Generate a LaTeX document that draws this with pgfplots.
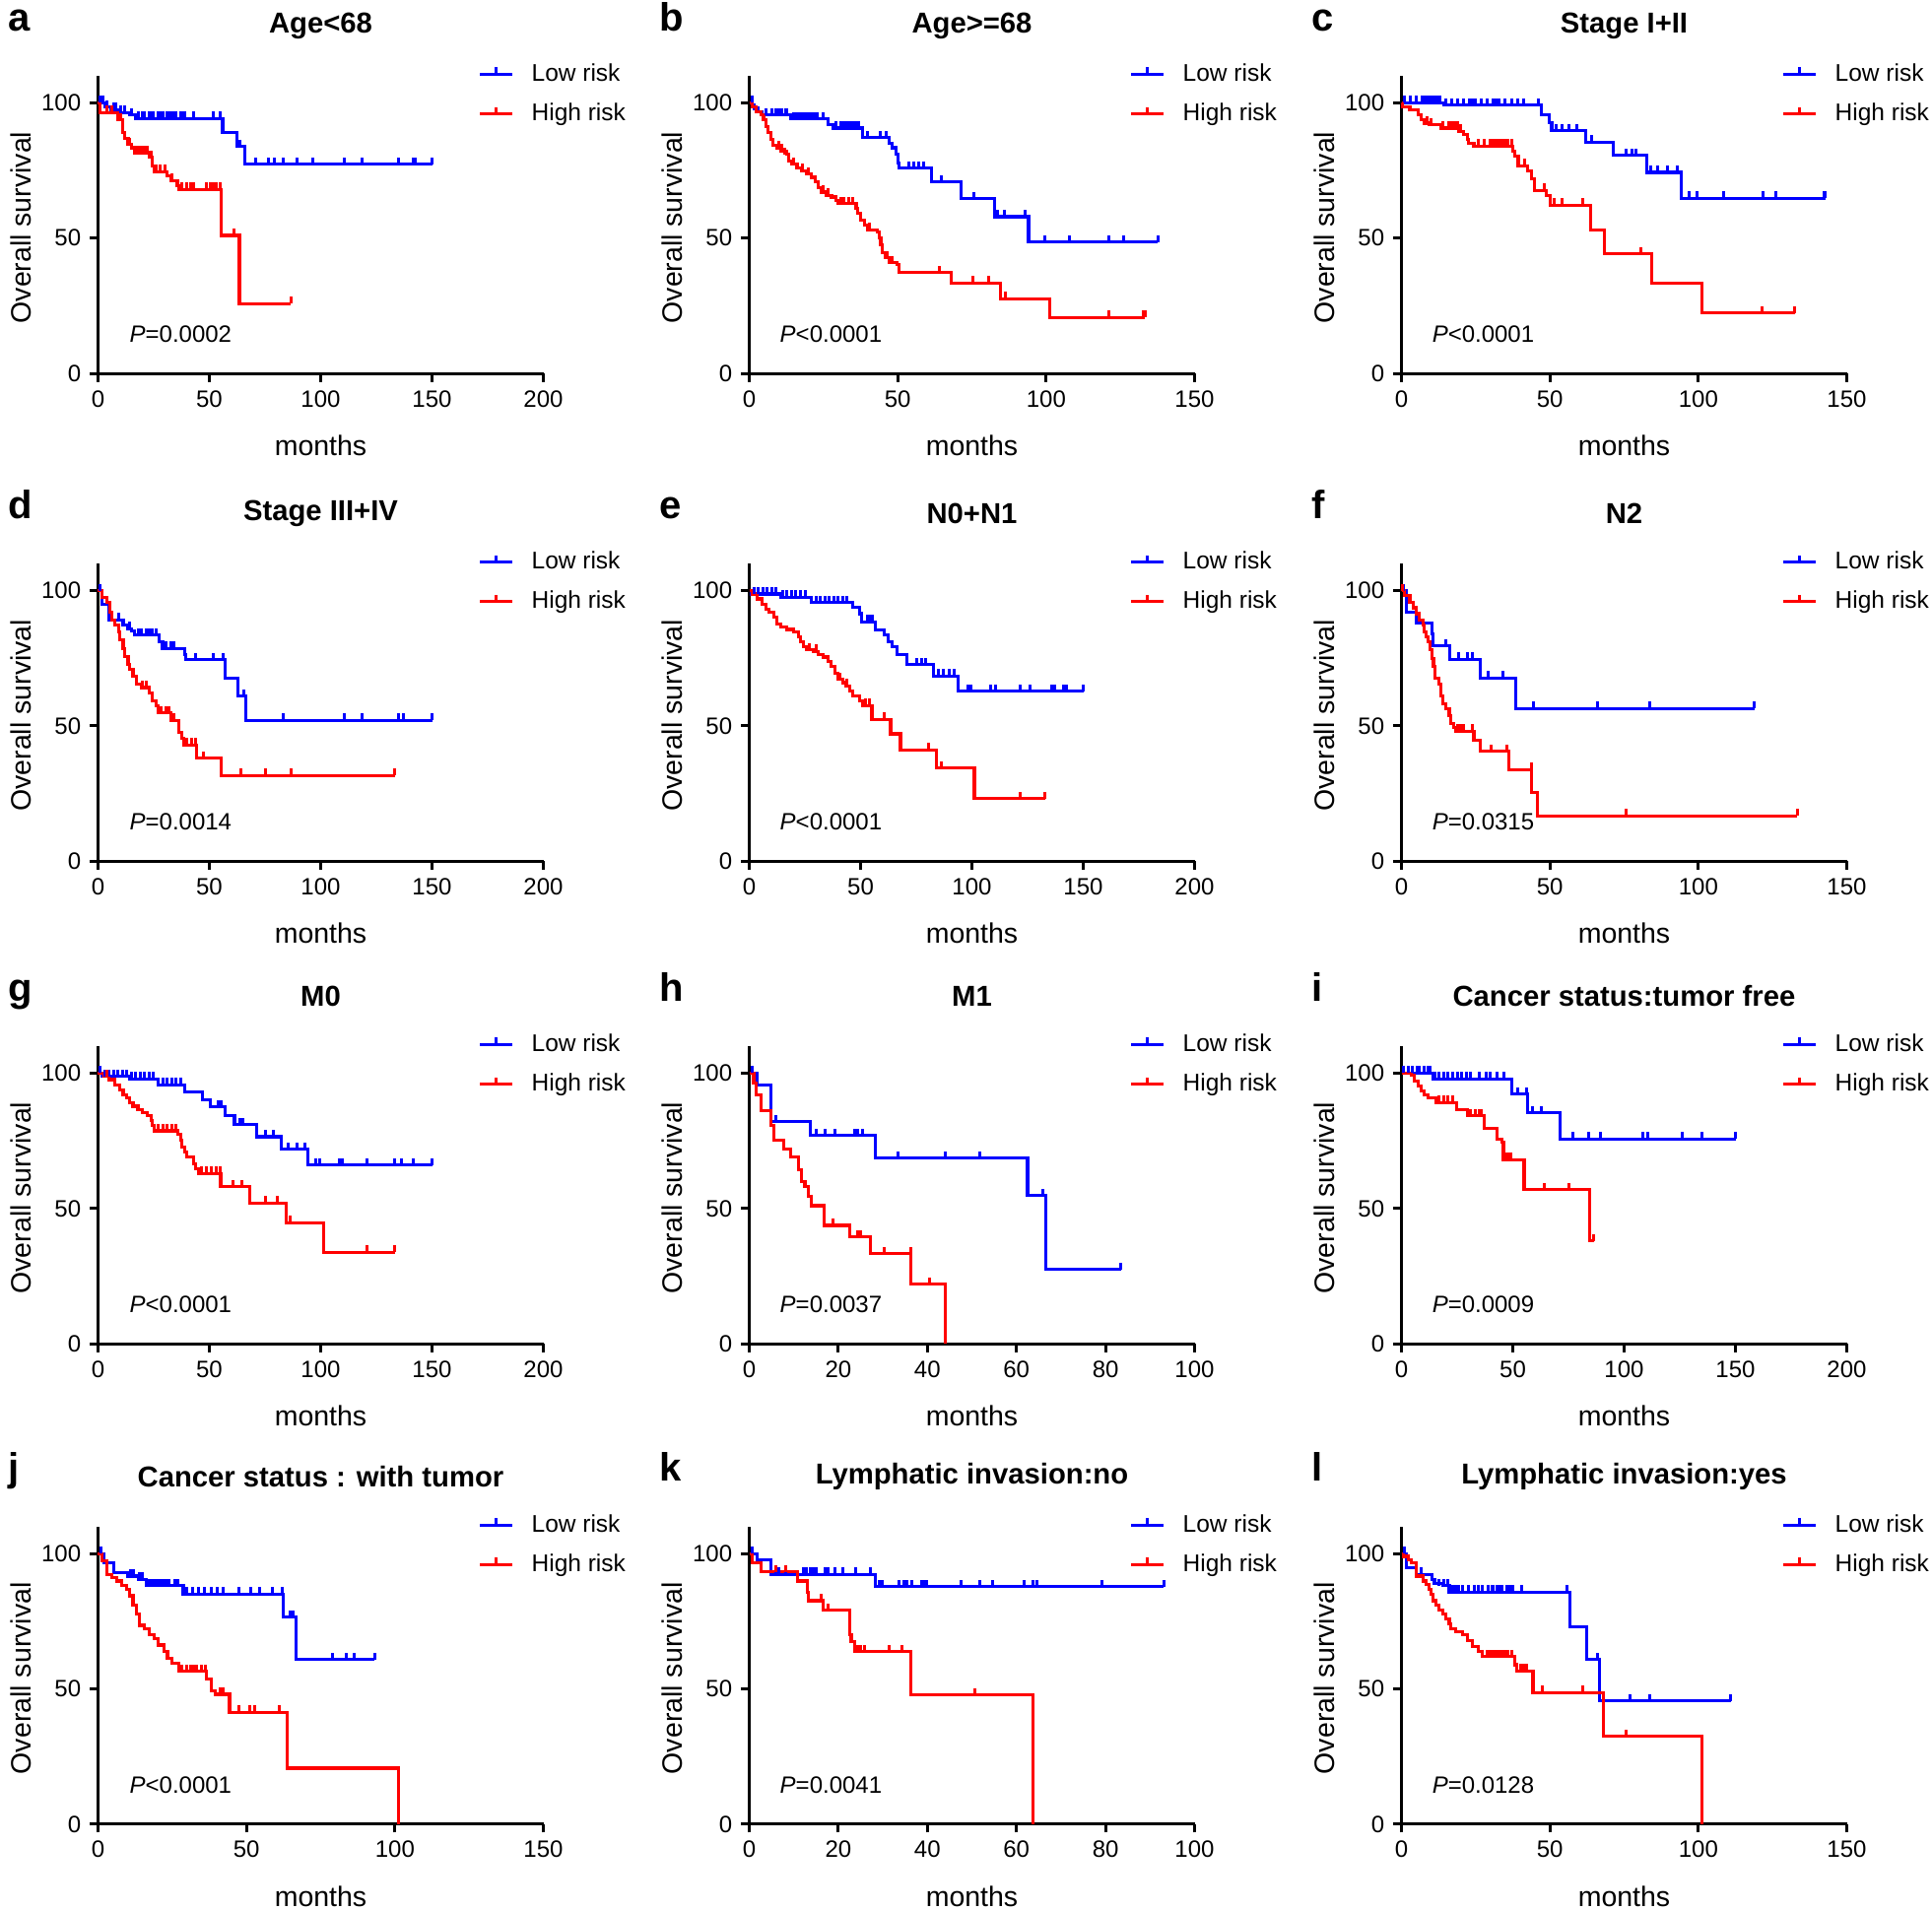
\documentclass[border=0pt]{standalone}
\usepackage{pgfplots}
\pgfplotsset{compat=1.18}
\usepackage{fontspec}
\setmainfont{Liberation Sans}

% censoring tick: short vertical stroke above the curve
\pgfdeclareplotmark{cens}{%
  \pgfpathmoveto{\pgfqpoint{0pt}{0pt}}%
  \pgfpathlineto{\pgfqpoint{0pt}{2.8pt}}%
  \pgfusepathqstroke}

\pgfplotsset{
  km/.style={
    scale only axis, width=180.8pt, height=120.8pt,
    anchor=south west, xmin=0, ymin=0, ymax=110,
    axis x line=bottom, axis y line=left,
    axis line style={-, line width=1.2pt},
    tick align=outside, major tick length=3.4pt,
    tick style={line width=1.2pt, black},
    ytick={0,50,100},
    /pgf/number format/assume math mode=true,
    tick label style={font=\fontsize{9.6}{11}\selectfont},
    label style={font=\fontsize{11.4}{13}\selectfont},
    xlabel={months}, ylabel={Overall survival},
    xlabel style={at={(axis description cs:0.5,-0.243)}, anchor=center},
    ylabel style={at={(axis description cs:-0.174,0.49)}, anchor=center},
    title style={at={(axis description cs:0.5,1.172)}, anchor=center, yshift=-6.5pt,
                 font=\bfseries\fontsize{11.7}{13}\selectfont},
    clip=false,
    legend style={draw=none, fill=none, at={(axis description cs:0.853,0.939)},
                  anchor=west, font=\fontsize{9.8}{11}\selectfont,
                  row sep=3.5pt, column sep=5.4pt, inner sep=0pt},
    legend cell align=left,
    legend image code/.code={\draw[#1] (0pt,0pt) -- (13pt,0pt);
                             \draw[#1] (6.5pt,0pt) -- (6.5pt,2.8pt);},
  },
  lo/.style={blue, line width=1.25pt, const plot, mark=none},
  hi/.style={red, line width=1.25pt, const plot, mark=none},
  clo/.style={blue, only marks, mark=cens, mark options={line width=1.2pt}},
  chi/.style={red, only marks, mark=cens, mark options={line width=1.2pt}},
}
\tikzset{
  pv/.style={anchor=west, inner sep=0pt, font=\fontsize{9.6}{11}\selectfont},
  lab/.style={anchor=base west, inner sep=0pt, font=\bfseries\fontsize{16}{18}\selectfont},
}

\begin{document}
\begin{tikzpicture}
\path[use as bounding box] (0,0) rectangle (784.4pt,-775.6pt);

% ---- a: Age<68
\begin{axis}[km, at={(39.8pt,-151.6pt)}, xmax=200, xtick={0,50,...,200}, title={Age<68}]
\addplot[lo] coordinates {(0,100)(3,98.5)(6,97.5)(9,96.5)(14,95.5)(17,94.3)(56,88.9)(62.5,83.8)(66,77.3)(150,77.3)};
\addplot[hi] coordinates {(0,100)(1,96.4)(9,93.7)(11,88.9)(12,87)(13.5,84.6)(15,83.4)(16.5,81.6)(23,79.8)(24.5,76.7)(25.3,74.5)(31,73.1)(32.6,71.3)(35.6,69.4)(36.3,68)(55.4,51)(63.5,25.7)(86.7,25.7)};
\addplot[clo, forget plot] coordinates {(1,100)(2,100)(4,98.5)(7,97.5)(8,97.5)(10,96.5)(12,96.5)(15,95.5)(18,94.3)(20,94.3)(21,94.3)(23,94.3)(24,94.3)(25,94.3)(27,94.3)(28,94.3)(29,94.3)(31,94.3)(32,94.3)(33,94.3)(34,94.3)(35,94.3)(37,94.3)(38,94.3)(39,94.3)(43,94.3)(51.7,94.3)(55,94.3)(63.5,83.8)(70.9,77.3)(76.7,77.3)(79,77.3)(83.3,77.3)(89.2,77.3)(96.6,77.3)(110.5,77.3)(118.6,77.3)(134.8,77.3)(141.4,77.3)(142.4,77.3)(150,77.3)};
\addplot[chi, forget plot] coordinates {(4,96.4)(6,96.4)(10,93.7)(14,84.6)(17,81.6)(18,81.6)(19,81.6)(20,81.6)(21,81.6)(22,81.6)(24,79.8)(26,74.5)(28,74.5)(30,74.5)(33,71.3)(37.8,68)(40,68)(41.5,68)(43,68)(48.8,68)(50.3,68)(51.7,68)(53.2,68)(54.7,68)(61,51)(86.7,25.7)};
\legend{Low risk,High risk}
\node[pv] at (rel axis cs:0.07,0.132) {\textit{P}=0.0002};
\node[lab] at (rel axis cs:-0.203,1.152) {a};
\end{axis}

% ---- b: Age>=68
\begin{axis}[km, at={(304.2pt,-151.6pt)}, xmax=150, xtick={0,50,...,150}, title={Age>=68}]
\addplot[lo] coordinates {(0,100)(1.1,99.2)(1.7,98)(2.8,96.8)(4.4,95.5)(13.8,94.1)(26.6,91.9)(28.2,90.7)(38.2,87.1)(47,85.2)(48.2,83.4)(49.3,81)(50,77.9)(50.5,75.8)(61.4,70.7)(71.4,64.6)(82.5,57.9)(94.1,48.6)(137.6,48.6)};
\addplot[hi] coordinates {(0,100)(1.1,98.6)(2.2,96.8)(3.9,95.5)(4.8,93.7)(5.5,91.3)(6.3,88.9)(7.2,86.4)(8.1,84.3)(9.4,83.4)(10.5,82.2)(12.7,81)(13.3,78.5)(14.4,77.3)(16.1,76.1)(17.7,74.9)(19.4,73.7)(21,72.5)(22.1,70.7)(23.2,68.8)(24.4,67)(26,65.8)(27.7,65.2)(29.3,64)(29.9,62.8)(36,60.9)(36.5,59.1)(37.6,56.7)(38.7,54.9)(39.9,53.1)(43.2,52.4)(43.7,50)(44.3,47.6)(44.8,44.6)(45.9,42.7)(47,40.9)(49.8,40.3)(50.4,37.3)(68.1,33.4)(84.7,27.6)(101.3,20.6)(133.4,20.6)};
\addplot[clo, forget plot] coordinates {(1,100)(5.5,95.5)(7.7,95.5)(8.9,95.5)(10,95.5)(11.1,95.5)(12.2,95.5)(12.7,95.5)(15,94.1)(16,94.1)(17,94.1)(18,94.1)(19,94.1)(20,94.1)(21,94.1)(22,94.1)(23,94.1)(25,94.1)(29.3,90.7)(31,90.7)(32,90.7)(33,90.7)(34,90.7)(35,90.7)(36,90.7)(37,90.7)(39.8,87.1)(44.3,87.1)(46,87.1)(53.7,75.8)(55.4,75.8)(57,75.8)(58.7,75.8)(64.8,70.7)(75.8,64.6)(83.6,57.9)(85.8,57.9)(93,57.9)(99.6,48.6)(107.9,48.6)(121.2,48.6)(126.2,48.6)(137.6,48.6)};
\addplot[chi, forget plot] coordinates {(10,83.4)(11,82.2)(12,81)(15,77.3)(18,74.9)(20,73.7)(25,67)(26.5,65.8)(31,62.8)(32,62.8)(33.5,62.8)(35,62.8)(40.5,53.1)(46.5,42.7)(48,40.9)(64.2,37.3)(75.3,33.4)(80.8,33.4)(86.3,27.6)(121.2,20.6)(132.8,20.6)(133.4,20.6)};
\legend{Low risk,High risk}
\node[pv] at (rel axis cs:0.068,0.132) {\textit{P}<0.0001};
\node[lab] at (rel axis cs:-0.203,1.152) {b};
\end{axis}

% ---- c: Stage I+II
\begin{axis}[km, at={(569pt,-151.6pt)}, xmax=150, xtick={0,50,...,150}, title={Stage I+II}]
\addplot[lo] coordinates {(0,100)(14.4,99.2)(47,95.5)(49.8,92.8)(50.6,89.7)(62,85.5)(71.4,80.6)(82.5,74.3)(94.1,64.8)(142.8,64.8)};
\addplot[hi] coordinates {(0,100)(0.3,98.6)(2.8,97.3)(5.5,95.5)(6.6,93.7)(7.7,92.5)(9.4,91.9)(13.3,90.7)(19.4,89.5)(21,88.3)(22.1,86.4)(22.7,85.2)(24.4,84)(37.6,82.2)(38.2,80.4)(39.3,76.7)(42.6,74.9)(43.7,71.9)(44.8,67.6)(48.7,65.8)(50,62.2)(63.7,53.1)(68.3,44.2)(84.4,33.3)(101.3,22.3)(132.5,22.3)};
\addplot[clo, forget plot] coordinates {(1,100)(3,100)(5,100)(7,100)(8,100)(9,100)(10,100)(11,100)(12,100)(13,100)(15,99.2)(17,99.2)(19,99.2)(21,99.2)(23,99.2)(24,99.2)(25,99.2)(27,99.2)(29,99.2)(31,99.2)(32,99.2)(33,99.2)(35,99.2)(37,99.2)(39,99.2)(41,99.2)(46,99.2)(52,89.7)(54.2,89.7)(56.4,89.7)(59.2,89.7)(64.2,85.5)(75.8,80.6)(77.5,80.6)(79.1,80.6)(84.1,74.3)(86.3,74.3)(89.7,74.3)(93,74.3)(96.9,64.8)(99.6,64.8)(108.5,64.8)(121.8,64.8)(126.2,64.8)(142.2,64.8)(142.8,64.8)};
\addplot[chi, forget plot] coordinates {(8.5,92.5)(10,91.9)(14,90.7)(16,90.7)(17,90.7)(18,90.7)(19,90.7)(20,89.5)(26,84)(28,84)(30,84)(31,84)(32,84)(33,84)(34,84)(35,84)(36,84)(37,84)(41.5,76.7)(48.2,67.6)(51.5,62.2)(54.2,62.2)(60.9,62.2)(80.8,44.2)(121.4,22.3)(132.5,22.3)};
\legend{Low risk,High risk}
\node[pv] at (rel axis cs:0.068,0.132) {\textit{P}<0.0001};
\node[lab] at (rel axis cs:-0.203,1.152) {c};
\end{axis}

% ---- d: Stage III+IV
\begin{axis}[km, at={(39.8pt,-349.7pt)}, xmax=200, xtick={0,50,...,200}, title={Stage III+IV}]
\addplot[lo] coordinates {(0,100)(1.8,95.1)(5,89.3)(11.3,87.2)(13.5,86)(15,85)(16.5,83.6)(27.5,81.2)(29,78.7)(38.8,76.3)(39.2,74.5)(56.9,67.8)(62.8,61.1)(66.4,52)(150,52)};
\addplot[hi] coordinates {(0,100)(1.8,97.6)(4,95.7)(5.4,92.1)(6.2,89.1)(7.6,87.2)(9.1,84.8)(9.8,81.8)(11.3,78.7)(12.1,75.7)(13.5,72.7)(14.3,70.8)(15.7,68.4)(17.2,65.4)(19.4,64.2)(23.1,62.3)(24.5,59.3)(26,57.5)(26.8,54.8)(32.6,52)(36.3,47.7)(37.8,45.3)(38.5,42.9)(44.4,38)(55.4,31.7)(133.3,31.7)};
\addplot[clo, forget plot] coordinates {(1,100)(9.1,89.3)(14,86)(18,83.6)(19.5,83.6)(21.6,83.6)(23.1,83.6)(24.5,83.6)(26,83.6)(30.4,78.7)(32.6,78.7)(34.1,78.7)(43.7,74.5)(51.7,74.5)(56.2,74.5)(65.7,61.1)(83.3,52)(110.5,52)(118.6,52)(134.8,52)(137.3,52)(150,52)};
\addplot[chi, forget plot] coordinates {(20.1,64.2)(21.6,64.2)(28.2,54.8)(30.4,54.8)(31.9,54.8)(34.1,52)(40,42.9)(42.2,42.9)(43.7,42.9)(47.3,38)(64.2,31.7)(75.3,31.7)(86.6,31.7)(133.3,31.7)};
\legend{Low risk,High risk}
\node[pv] at (rel axis cs:0.07,0.132) {\textit{P}=0.0014};
\node[lab] at (rel axis cs:-0.203,1.152) {d};
\end{axis}

% ---- e: N0+N1
\begin{axis}[km, at={(304.2pt,-349.7pt)}, xmax=200, xtick={0,50,...,200}, title={N0+N1}]
\addplot[lo] coordinates {(0,100)(0.7,98.8)(14,97.6)(28,95.7)(46.5,93.9)(49.4,91.5)(50.6,88.5)(56.8,85.4)(60.5,83.6)(62.4,81.2)(64.2,79.3)(66.4,76.3)(70.8,72.7)(82.7,68.4)(93.7,62.9)(150,62.9)};
\addplot[hi] coordinates {(0,100)(1.5,98.8)(3.7,97)(5.9,95.1)(7.4,93.3)(8.9,92.1)(11.1,90.2)(12.5,87.8)(14,86.6)(17,85.7)(19.9,84.8)(22.1,83)(22.9,81.2)(24.4,79.3)(25.8,78.1)(28.8,77.5)(31,76.3)(33.2,75.5)(35.4,73.9)(36.9,72)(38.4,69.6)(39.9,67.2)(42.1,66)(43.5,64.8)(45,62.9)(46.5,61.1)(49.4,59.3)(50.9,57.5)(55.1,52.4)(63.5,47.1)(67.9,41.1)(84.1,34.4)(101.1,23.2)(132.8,23.2)};
\addplot[clo, forget plot] coordinates {(2,98.8)(4,98.8)(6,98.8)(8,98.8)(10,98.8)(12,98.8)(15,97.6)(17,97.6)(19,97.6)(21,97.6)(23,97.6)(25,97.6)(30,95.7)(32,95.7)(34,95.7)(36,95.7)(38,95.7)(40,95.7)(42,95.7)(44,95.7)(53.1,88.5)(54.6,88.5)(55.4,88.5)(75.3,72.7)(77.5,72.7)(79,72.7)(84.9,68.4)(87.1,68.4)(90,68.4)(92.2,68.4)(98.2,62.9)(99.6,62.9)(108.5,62.9)(110.7,62.9)(121.8,62.9)(126.2,62.9)(135.8,62.9)(137.3,62.9)(141,62.9)(142.4,62.9)(150,62.9)};
\addplot[chi, forget plot] coordinates {(27,78.1)(30,77.5)(40.5,67.2)(44,64.8)(52.4,57.5)(53.9,57.5)(60.5,52.4)(80.4,41.1)(86.3,34.4)(121.5,23.2)(132.8,23.2)};
\legend{Low risk,High risk}
\node[pv] at (rel axis cs:0.068,0.132) {\textit{P}<0.0001};
\node[lab] at (rel axis cs:-0.203,1.152) {e};
\end{axis}

% ---- f: N2
\begin{axis}[km, at={(569pt,-349.7pt)}, xmax=150, xtick={0,50,...,150}, title={N2}]
\addplot[lo] coordinates {(0,100)(1.7,92.1)(5,88.1)(10.3,84.2)(10.7,79.6)(16.3,74.7)(26.6,67.8)(38.5,56.5)(118.8,56.5)};
\addplot[hi] coordinates {(0,100)(1.1,98.2)(2.8,95.7)(3.9,93.7)(5,91.5)(6.1,89.1)(7.2,87.2)(7.7,84.8)(8.3,83)(8.9,81.2)(9.6,78.1)(10.3,75.1)(10.8,72)(11.4,67.8)(12.5,65.4)(13.3,61.1)(13.8,58.1)(14.9,56.3)(16.1,53.8)(16.6,50.8)(17.7,49.6)(18.3,48)(24.4,44.7)(26.6,40.7)(36.2,33.8)(43.9,25.3)(45.9,16.8)(133.4,16.8)};
\addplot[clo, forget plot] coordinates {(0.5,100)(5,88.1)(14.9,79.6)(19.4,74.7)(22.1,74.7)(23.8,74.7)(29.3,67.8)(34.3,67.8)(44.3,56.5)(65.9,56.5)(83.6,56.5)(118.8,56.5)};
\addplot[chi, forget plot] coordinates {(0.3,100)(18.8,48)(19.9,48)(21,48)(23.8,48)(30.2,40.7)(35.4,40.7)(43.7,33.8)(75.6,16.8)(133.4,16.8)};
\legend{Low risk,High risk}
\node[pv] at (rel axis cs:0.068,0.132) {\textit{P}=0.0315};
\node[lab] at (rel axis cs:-0.203,1.152) {f};
\end{axis}

% ---- g: M0
\begin{axis}[km, at={(39.8pt,-545.6pt)}, xmax=200, xtick={0,50,...,200}, title={M0}]
\addplot[lo] coordinates {(0,100)(1.8,98.8)(14.3,97.9)(27,95.7)(38.8,93.1)(47,90.3)(50.6,87.5)(56.9,84.2)(61.3,80.9)(71.1,76.5)(82.3,71.8)(94.1,66)(150,66)};
\addplot[hi] coordinates {(0,100)(2.5,98.8)(4.7,97.6)(7.6,95.7)(9.8,93.9)(11.3,92.1)(12.8,90.9)(14.3,89.1)(15.7,87.8)(17.9,86.6)(20.1,85.4)(22.3,84.2)(23.8,82.4)(24.5,80.6)(25.3,78.7)(35.9,77.5)(37,75.1)(37.8,72.7)(38.8,70.8)(39.7,69)(42.9,66.6)(43.7,64.8)(45.1,62.9)(55.1,58.1)(68.2,52)(84.4,44.7)(101.3,33.8)(133.3,33.8)};
\addplot[clo, forget plot] coordinates {(1,100)(3,98.8)(5,98.8)(7,98.8)(9,98.8)(11,98.8)(13,98.8)(15,97.9)(17,97.9)(19,97.9)(21,97.9)(23,97.9)(25,97.9)(29,95.7)(31,95.7)(33,95.7)(35,95.7)(37,95.7)(54,87.5)(55.4,87.5)(63.5,80.9)(65,80.9)(75.3,76.5)(78.9,76.5)(85.6,71.8)(89.2,71.8)(92.9,71.8)(98,66)(99.5,66)(108.3,66)(109.8,66)(120.8,66)(133.3,66)(136.3,66)(141.4,66)(150,66)};
\addplot[chi, forget plot] coordinates {(4,98.8)(27,78.7)(29,78.7)(31,78.7)(33,78.7)(35,78.7)(46.6,62.9)(48.8,62.9)(51,62.9)(53.2,62.9)(54.7,62.9)(60.6,58.1)(64.7,58.1)(75.3,52)(80.4,52)(86.3,44.7)(120.8,33.8)(133.3,33.8)};
\legend{Low risk,High risk}
\node[pv] at (rel axis cs:0.07,0.132) {\textit{P}<0.0001};
\node[lab] at (rel axis cs:-0.203,1.152) {g};
\end{axis}

% ---- h: M1
\begin{axis}[km, at={(304.2pt,-545.6pt)}, xmax=100, xtick={0,20,...,100}, title={M1}]
\addplot[lo] coordinates {(0,100)(1.8,95.7)(4.8,82)(13.8,76.9)(28.4,68.6)(62.5,54.8)(66.6,27.5)(83.5,27.5)};
\addplot[hi] coordinates {(0,100)(1,96.3)(1.5,92.1)(2.6,86)(4.8,80.6)(5.5,75.1)(7.7,72)(9.2,69)(11.1,64.2)(11.8,59.9)(12.5,58.1)(13.3,54.4)(14,51)(16.8,43.7)(22.5,39.5)(27.3,33.2)(36.2,22)(44.1,0)};
\addplot[clo, forget plot] coordinates {(0.7,100)(5.9,82)(15.1,76.9)(17,76.9)(19.2,76.9)(23.6,76.9)(24.4,76.9)(25.5,76.9)(33.4,68.6)(44.1,68.6)(51.7,68.6)(65.9,54.8)(83.5,27.5)};
\addplot[chi, forget plot] coordinates {(12.5,58.1)(18.8,43.7)(24.4,39.5)(25.1,39.5)(30.3,33.2)(36.2,33.2)(40.4,22)};
\legend{Low risk,High risk}
\node[pv] at (rel axis cs:0.068,0.132) {\textit{P}=0.0037};
\node[lab] at (rel axis cs:-0.203,1.152) {h};
\end{axis}

% ---- i: Cancer status tumor free
\begin{axis}[km, at={(569pt,-545.6pt)}, xmax=200, xtick={0,50,...,200}, title={Cancer status:tumor free}]
\addplot[lo] coordinates {(0,100)(14,97.9)(49.4,92.3)(56.5,85.4)(71.3,75.7)(150,75.7)};
\addplot[hi] coordinates {(0,100)(4.4,99.1)(5.9,97)(7.4,95.1)(8.9,93.3)(10.3,92.1)(11.8,90.9)(15.5,89.1)(24.8,86.6)(29.5,84.2)(37.3,79.7)(42.8,75.7)(45,74.5)(45.8,68)(55.1,56.9)(84.4,38)(86.3,38)};
\addplot[clo, forget plot] coordinates {(1,100)(3,100)(5,100)(7,100)(8,100)(10,100)(12,100)(13,100)(15,97.9)(17,97.9)(19,97.9)(21,97.9)(23,97.9)(25,97.9)(27,97.9)(29,97.9)(31,97.9)(35,97.9)(38,97.9)(40,97.9)(43,97.9)(46,97.9)(52.4,92.3)(56.1,92.3)(59,85.4)(62.7,85.4)(76.8,75.7)(84.1,75.7)(89.3,75.7)(108.5,75.7)(110.7,75.7)(126.2,75.7)(135.1,75.7)(150,75.7)};
\addplot[chi, forget plot] coordinates {(17,89.1)(19,89.1)(21,89.1)(23,89.1)(31,84.2)(33,84.2)(35,84.2)(36,84.2)(47,68)(48,68)(49,68)(64.2,56.9)(75.3,56.9)(86.3,38)};
\legend{Low risk,High risk}
\node[pv] at (rel axis cs:0.068,0.132) {\textit{P}=0.0009};
\node[lab] at (rel axis cs:-0.203,1.152) {i};
\end{axis}

% ---- j: Cancer status with tumor
\begin{axis}[km, at={(39.8pt,-740.7pt)}, xmax=150, xtick={0,50,...,150}, title={Cancer status : with tumor}]
\addplot[lo] coordinates {(0,100)(1.9,96.6)(5.2,92.9)(10.1,91.7)(13.5,90.5)(16.2,88.1)(28.7,85)(62.3,76.5)(66.7,60.8)(93.1,60.8)};
\addplot[hi] coordinates {(0,100)(1.3,97.2)(3,92.3)(4.6,91.1)(6.3,89.9)(7.9,88.1)(9.6,86.9)(10.7,84.4)(11.8,80.8)(12.9,77.8)(14,73.5)(15.7,72.3)(17.3,69.9)(19,68.6)(20.1,66.2)(22.3,63.8)(23.4,61.4)(25,59.5)(27.2,56.5)(36.6,53.5)(38.3,49.2)(39.4,48)(44.3,41.3)(63.6,20.7)(101.1,0)};
\addplot[clo, forget plot] coordinates {(1,100)(11,91.7)(12,91.7)(14,90.5)(15,90.5)(17,88.1)(18,88.1)(19,88.1)(20,88.1)(21,88.1)(22,88.1)(23,88.1)(24,88.1)(26,88.1)(27,88.1)(30,85)(32,85)(34,85)(36,85)(38,85)(40,85)(42,85)(47.6,85)(51.5,85)(54.3,85)(58.7,85)(62,85)(64.7,76.5)(65.8,76.5)(79.1,60.8)(83.5,60.8)(86.3,60.8)(93.1,60.8)};
\addplot[chi, forget plot] coordinates {(28.3,56.5)(30,56.5)(31.1,56.5)(32.2,56.5)(33.3,56.5)(35,56.5)(36.1,56.5)(41,48)(42.1,48)(47.6,41.3)(51,41.3)(52.6,41.3)(60.9,41.3)};
\legend{Low risk,High risk}
\node[pv] at (rel axis cs:0.07,0.132) {\textit{P}<0.0001};
\node[lab] at (rel axis cs:-0.203,1.152) {j};
\end{axis}

% ---- k: Lymphatic invasion no
\begin{axis}[km, at={(304.2pt,-740.7pt)}, xmax=100, xtick={0,20,...,100}, title={Lymphatic invasion:no}]
\addplot[lo] coordinates {(0,100)(1.8,97.8)(4.8,92.3)(28.4,87.8)(93.1,87.8)};
\addplot[hi] coordinates {(0,100)(0.7,96.6)(2.7,93.2)(10.9,89.9)(13.1,85.7)(13.3,82.6)(16.6,79)(22.5,69.9)(22.9,67.4)(23.6,63.8)(36.3,47.7)(63.7,0)};
\addplot[clo, forget plot] coordinates {(0.7,100)(5.9,92.3)(6.6,92.3)(8.1,92.3)(12.2,92.3)(12.9,92.3)(13.7,92.3)(14.4,92.3)(15.1,92.3)(17,92.3)(17.7,92.3)(19.2,92.3)(21,92.3)(24,92.3)(27.3,92.3)(29.2,87.8)(29.9,87.8)(33.6,87.8)(34.7,87.8)(35.4,87.8)(36.5,87.8)(38.7,87.8)(39.4,87.8)(39.9,87.8)(47.6,87.8)(51.7,87.8)(54.6,87.8)(61.8,87.8)(63.8,87.8)(64.7,87.8)(79.1,87.8)(93.1,87.8)};
\addplot[chi, forget plot] coordinates {(5.9,93.2)(8.1,93.2)(16.1,82.6)(17.7,79)(24.4,63.8)(25.1,63.8)(25.8,63.8)(31.4,63.8)(34.3,63.8)(50.6,47.7)};
\legend{Low risk,High risk}
\node[pv] at (rel axis cs:0.068,0.132) {\textit{P}=0.0041};
\node[lab] at (rel axis cs:-0.203,1.152) {k};
\end{axis}

% ---- l: Lymphatic invasion yes
\begin{axis}[km, at={(569pt,-740.7pt)}, xmax=150, xtick={0,50,...,150}, title={Lymphatic invasion:yes}]
\addplot[lo] coordinates {(0,100)(1.7,94.8)(5,92.3)(10.3,90.5)(11.1,89.1)(13.8,88.1)(16.1,85.7)(56.8,72.9)(62.5,60.8)(66.6,45.6)(110.9,45.6)};
\addplot[hi] coordinates {(0,100)(0.6,99)(2.2,97.8)(3.3,96.6)(5,91.7)(7.2,89.9)(8.3,88.7)(9.4,86.9)(10,85)(10.5,82.6)(11.6,80.8)(12.7,79)(13.8,77.8)(14.9,75.9)(16.1,74.1)(16.6,72.3)(18.3,71.1)(20.5,69.9)(22.1,68)(23.8,65.6)(26,63.8)(27.1,62)(38.2,58.9)(38.7,56.7)(44.3,48.6)(68.1,32.4)(101.3,0)};
\addplot[clo, forget plot] coordinates {(1,100)(6.6,92.3)(12.7,88.1)(14.4,88.1)(15.5,88.1)(16.6,85.7)(17.7,85.7)(18.3,85.7)(19.4,85.7)(20.5,85.7)(22.7,85.7)(24.4,85.7)(26,85.7)(27.1,85.7)(29.3,85.7)(30.4,85.7)(31,85.7)(32.1,85.7)(32.7,85.7)(33.8,85.7)(35.4,85.7)(36.5,85.7)(37.6,85.7)(40.4,85.7)(55.9,85.7)(65.9,60.8)(76.9,45.6)(83.6,45.6)(110.9,45.6)};
\addplot[chi, forget plot] coordinates {(29,62)(30,62)(31,62)(32,62)(33,62)(34,62)(35,62)(36,62)(37,62)(40,56.7)(41,56.7)(42,56.7)(47.3,48.6)(60.9,48.6)(75.6,32.4)};
\legend{Low risk,High risk}
\node[pv] at (rel axis cs:0.068,0.132) {\textit{P}=0.0128};
\node[lab] at (rel axis cs:-0.203,1.152) {l};
\end{axis}
\end{tikzpicture}
\end{document}
